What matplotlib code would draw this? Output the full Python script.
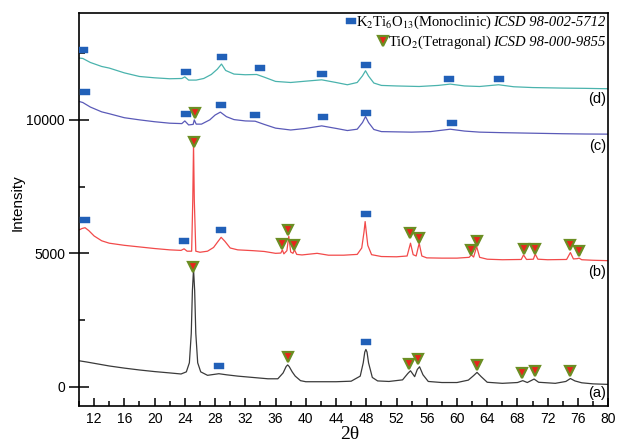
import matplotlib
matplotlib.use("Agg")
import matplotlib.pyplot as plt
from matplotlib.ticker import MultipleLocator, FixedLocator

# ---------------- data ----------------
a_x = [10.0, 11, 12, 14, 16, 18, 20, 22, 23.5, 24.2, 24.6, 24.85, 25.0, 25.15, 25.3, 25.45, 25.7, 26.1,
       27, 28.5, 29.5, 31, 33, 35, 36.3, 37.0, 37.4, 37.6, 37.8, 38.2, 38.6, 39.3, 40, 42, 44, 46, 47.2,
       47.6, 47.8, 47.95, 48.1, 48.3, 48.8, 49.5, 51, 52.8, 53.5, 53.85, 54.4, 54.75, 55.05, 55.5, 56.2,
       58, 60, 61.5, 62.2, 62.65, 63.2, 64, 66, 68, 68.7, 69.3, 70.2, 70.8, 73, 74.4, 75.0, 75.6, 76.5,
       78, 80]
a_y = [975, 930, 880, 780, 700, 630, 570, 520, 480, 560, 900, 2000, 3600, 4400, 3600, 2000, 900, 560,
       430, 490, 450, 400, 350, 300, 300, 520, 760, 820, 760, 560, 400, 230, 190, 190, 190, 210, 400,
       900, 1300, 1400, 1300, 900, 350, 220, 200, 260, 500, 600, 380, 650, 750, 450, 200,
       160, 160, 250, 420, 540, 380, 170, 130, 160, 230, 160, 290, 170, 130, 200, 310, 220, 150,
       110, 90]

b_x = [10.0, 10.4, 10.8, 11.3, 12, 13, 14, 16, 18, 20, 22, 23.5, 23.9, 24.3, 24.9, 25.05, 25.15, 25.25,
       25.45, 26, 27, 27.8, 28.4, 28.8, 29.3, 30, 31, 33, 34.5, 36, 36.7, 36.9, 37.1, 37.5, 37.75, 38.0,
       38.3, 38.5, 38.8, 39.5, 41.5, 43, 45, 46.8, 47.4, 47.7, 47.85, 48.0, 48.2, 48.7, 50, 52, 53.4,
       53.85, 54.2, 54.6, 55.0, 55.35, 56, 58, 60, 61.6, 61.9, 62.2, 62.6, 63.0, 64, 66, 68.5, 68.8, 69.2,
       70.1, 70.35, 70.7, 72, 74.5, 75.0, 75.4, 75.9, 76.15, 76.5, 78, 80]
b_y = [5875, 5930, 5960, 5850, 5650, 5470, 5380, 5300, 5240, 5180, 5130, 5110, 5170, 5080, 5080, 7000,
       9100, 7000, 5080, 5040, 5080, 5220, 5450, 5600, 5450, 5200, 5130, 5100, 5070, 5000, 5010, 5130,
       4980, 5100, 5640, 5050, 5000, 5130, 4960, 4940, 5000, 4930, 4930, 4960, 5200, 5800, 6190, 5800,
       5300, 4950, 4880, 4870, 4900, 5380, 4950, 4900, 5380, 4900, 4830, 4820, 4820, 4850, 4940, 4860,
       5250, 4850, 4780, 4760, 4770, 4940, 4770, 4780, 4970, 4780, 4760, 4770, 5030, 4790, 4800, 4820,
       4760, 4740, 4725]

c_x = [10.0, 10.5, 11.5, 13, 14, 16, 18, 20, 22, 23.6, 24.0, 24.5, 25.1, 25.25, 25.5, 26.2, 27.3, 28.0,
       28.7, 29.5, 30.5, 32, 33.3, 34.5, 36, 38, 40, 42.1, 44, 45.5, 46.8, 47.5, 47.9, 48.3, 49, 50, 52,
       54, 56.5, 59.1, 61, 63, 66, 70, 74, 77, 80]
c_y = [10690, 10650, 10480, 10300, 10230, 10080, 10000, 9930, 9875, 9860, 9960, 9810, 9830, 10000, 9840,
       9840, 10000, 10180, 10290, 10120, 10010, 9960, 9950, 9830, 9690, 9620, 9680, 9775, 9680, 9600,
       9650, 9900, 10125, 9900, 9640, 9560, 9550, 9540, 9560, 9650, 9580, 9540, 9520, 9500, 9480, 9470, 9465]

d_x = [10.0, 10.5, 11.5, 13, 14, 16, 18, 20, 22, 23.6, 24.0, 24.5, 25.5, 26.5, 27.5, 28.3, 28.85, 29.4,
       30.5, 32, 33.5, 34.5, 36, 38, 40, 42.1, 44, 45.5, 46.8, 47.5, 47.9, 48.3, 49, 50, 52, 55, 57.5,
       59.1, 61, 63, 65.5, 67.5, 70, 74, 77, 80]
d_y = [12315, 12300, 12150, 12000, 11940, 11760, 11625, 11575, 11540, 11550, 11610, 11490, 11490, 11550,
       11700, 11900, 12090, 11850, 11715, 11690, 11700, 11600, 11440, 11400, 11450, 11500, 11400, 11315,
       11400, 11650, 11840, 11640, 11380, 11290, 11270, 11250, 11290, 11340, 11270, 11250, 11315, 11240,
       11210, 11190, 11180, 11165]

# phase markers: K2Ti6O13 (squares) and TiO2 (triangles)
sq_a_x, sq_a_y = [28.5, 47.9], [775, 1665]
sq_b_x, sq_b_y = [10.8, 23.9, 28.8, 47.9], [6250, 5450, 5875, 6480]
sq_c_x = [10.8, 24.1, 28.75, 33.3, 42.3, 47.95, 59.3]
sq_c_y = [11040, 10225, 10540, 10175, 10090, 10250, 9900]
sq_d_x = [10.5, 24.1, 28.9, 33.9, 42.1, 48.0, 59.0, 65.6]
sq_d_y = [12625, 11810, 12350, 11940, 11715, 12040, 11540, 11540]

tr_a_x = [25.1, 37.6, 53.6, 54.9, 62.7, 68.6, 70.3, 75.0]
tr_a_y = [4500, 1125, 840, 1030, 815, 525, 590, 590]
tr_b_x = [25.2, 36.85, 37.7, 38.5, 53.8, 55.0, 61.9, 62.6, 68.8, 70.3, 75.0, 76.2]
tr_b_y = [9165, 5340, 5875, 5310, 5750, 5565, 5125, 5475, 5150, 5150, 5310, 5090]
tr_c_x, tr_c_y = [25.4], [10275]

curve_labels = ["(a)", "(b)", "(c)", "(d)"]
curve_label_y = [-230, 4300, 9025, 10790]
legend_main = [r"K$_2$Ti$_6$O$_{13}$(Monoclinic) ", r"TiO$_2$(Tetragonal) "]
legend_ital = ["ICSD 98-002-5712", "ICSD 98-000-9855"]

x_ticks = list(range(12, 81, 4))
y_ticks = [0, 5000, 10000]

# ---------------- styling ----------------
plt.rcParams["font.family"] = ["Liberation Sans", "DejaVu Sans"]
plt.rcParams["mathtext.fontset"] = "stix"

col_a, col_b, col_c, col_d = "#3a3a3a", "#f24a4a", "#5a5ab8", "#4ab3ad"
sq_col = "#2160b8"
tri_face, tri_edge = "#e8241c", "#6b8e23"

fig = plt.figure(figsize=(6.27, 4.45), dpi=100)
ax = fig.add_axes([0.126, 0.0876, 0.844, 0.883])

ax.plot(a_x, a_y, color=col_a, lw=0.9)
ax.plot(b_x, b_y, color=col_b, lw=0.9)
ax.plot(c_x, c_y, color=col_c, lw=0.9)
ax.plot(d_x, d_y, color=col_d, lw=0.9)

rect = [(-1.4, -1), (1.4, -1), (1.4, 1), (-1.4, 1), (-1.4, -1)]
sq_kw = dict(ls="none", marker=rect, ms=7, mfc=sq_col, mec=sq_col, mew=0.3, zorder=5)
tr_kw = dict(ls="none", marker="v", ms=7.5, mfc=tri_face, mec=tri_edge, mew=1.6, zorder=5)
for xs, ys in [(sq_a_x, sq_a_y), (sq_b_x, sq_b_y), (sq_c_x, sq_c_y), (sq_d_x, sq_d_y)]:
    ax.plot(xs, ys, **sq_kw)
for xs, ys in [(tr_a_x, tr_a_y), (tr_b_x, tr_b_y), (tr_c_x, tr_c_y)]:
    ax.plot(xs, ys, **tr_kw)

for lab, yv in zip(curve_labels, curve_label_y):
    ax.text(79.7, yv, lab, ha="right", va="center", fontsize=10.5)

ax.set_xlim(10, 80)
ax.set_ylim(-720, 14000)
ax.xaxis.set_major_locator(FixedLocator(x_ticks))
ax.xaxis.set_minor_locator(MultipleLocator(2))
ax.yaxis.set_major_locator(FixedLocator(y_ticks))
ax.yaxis.set_minor_locator(FixedLocator([2500, 7500, 12500]))
ax.tick_params(axis="x", which="major", direction="in", length=6, width=1.1, labelsize=10, pad=4)
ax.tick_params(axis="x", which="minor", direction="in", length=3.5, width=1.1)
ax.tick_params(axis="y", which="major", direction="inout", length=14, width=1.1, labelsize=10, pad=3)
ax.tick_params(axis="y", which="minor", direction="in", length=4, width=1.1)
for s in ax.spines.values():
    s.set_linewidth(1.2)

ax.set_ylabel("Intensity", fontsize=11)
ax.yaxis.set_label_coords(-0.102, 0.517)
ax.set_xlabel("2θ", fontsize=14, family="Liberation Serif")
ax.xaxis.set_label_coords(0.512, -0.052)

# legend built from text pieces, right aligned
fig.canvas.draw()
renderer = fig.canvas.get_renderer()
leg_y = [0.977, 0.926]
inv = ax.transAxes.inverted()
for i in range(2):
    t1 = ax.text(0.994, leg_y[i], legend_ital[i], transform=ax.transAxes, ha="right", va="center",
                 family="Liberation Serif", style="italic", fontsize=10.5)
    bb = t1.get_window_extent(renderer)
    xl = inv.transform((bb.x0, bb.y0))[0]
    t2 = ax.text(xl, leg_y[i], legend_main[i], transform=ax.transAxes, ha="right", va="center",
                 family="Liberation Serif", fontsize=10.5)
    bb2 = t2.get_window_extent(renderer)
    xm = inv.transform((bb2.x0 - 5, bb2.y0))[0]
    if i == 0:
        ax.plot([xm], [leg_y[i] + 0.002], transform=ax.transAxes, clip_on=False, **sq_kw)
    else:
        ax.plot([xm], [leg_y[i] + 0.004], transform=ax.transAxes, clip_on=False, **tr_kw)

fig.savefig("out.png", dpi=100)
